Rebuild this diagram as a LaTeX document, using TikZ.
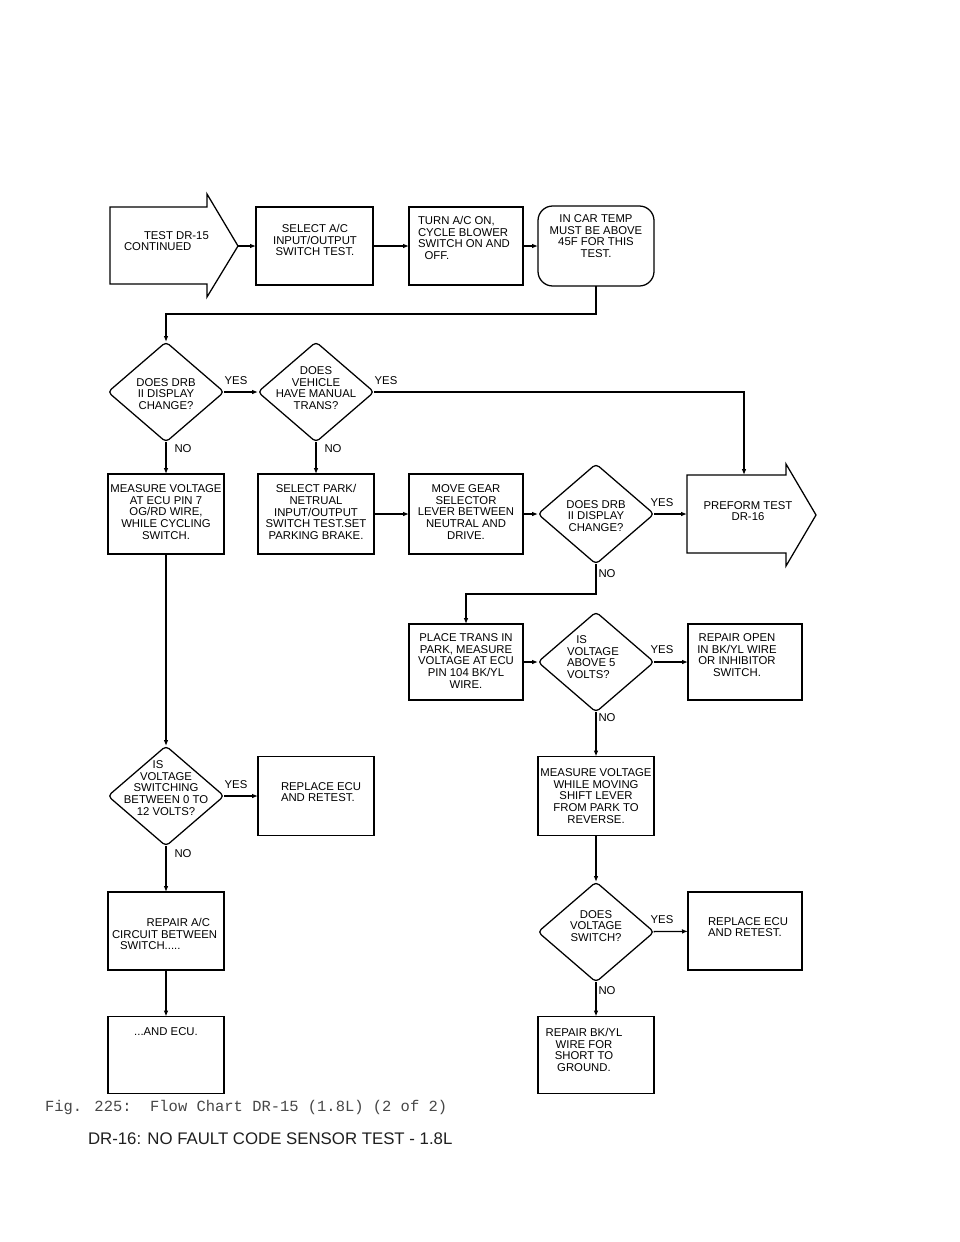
\documentclass[tikz,border=0pt]{standalone}
\usepackage{fontspec}
\setmainfont{Liberation Sans}
\newfontfamily\capfont{Liberation Mono}
\usetikzlibrary{shapes.geometric,arrows.meta,calc}
\begin{document}
\begin{tikzpicture}[x=0.75pt,y=-0.75pt,
  every node/.style={inner sep=0pt, outer sep=0pt},
  bx/.style 2 args={draw, line width=0.95pt, minimum width=#1*0.75pt, minimum height=#2*0.75pt},
  dia/.style={draw, diamond, line width=0.95pt, minimum width=116*0.75pt, minimum height=100*0.75pt, rounded corners=3pt},
  txt/.style={font=\fontsize{8.5}{8.7}\selectfont, align=center},
  lbl/.style={font=\fontsize{8.5}{8.7}\selectfont},
  conn/.style={line width=0.95pt, -{Latex[length=4.5pt,width=3.5pt]}},
  ln/.style={line width=0.95pt, line join=miter}
]
\fill[white] (0,0) rectangle (960,1242);
\useasboundingbox (0,0) rectangle (960,1242);

% ---------- row 1 ----------
\draw[ln] (110,207) -- (207,207) -- (207,194) -- (238,246) -- (207,297) -- (207,284) -- (110,284) -- cycle;
\node[minimum width=97*0.75pt, minimum height=77*0.75pt] (a1) at (158.5,245.5) {};
\coordinate (a1tip) at (238,246);
\node[txt, align=left, anchor=west] (t1) at (124,241) {\hspace*{15pt}TEST DR-15\\CONTINUED};

\node[bx={117}{78}] (b2) at (314.5,246) {};
\node[txt] (t2) at (315,240) {SELECT A/C\\INPUT/OUTPUT\\SWITCH TEST.};

\node[bx={114}{78}] (b3) at (466,246) {};
\node[txt, align=left, anchor=west] (t3) at (418,238) {TURN A/C ON,\\CYCLE BLOWER\\SWITCH ON AND\\\hspace*{5pt}OFF.};

\node[bx={116}{80}, rounded corners=11pt] (b4) at (596,246) {};
\node[txt] (t4) at (596,236) {IN CAR TEMP\\MUST BE ABOVE\\45F FOR THIS\\TEST.};

% ---------- row 2 ----------
\node[dia] (d1) at (166,392) {};
\node[txt] (td1) at (166,394) {DOES DRB\\II DISPLAY\\CHANGE?};
\node[dia] (d2) at (316,392) {};
\node[txt] (td2) at (316,388) {DOES\\VEHICLE\\HAVE MANUAL\\TRANS?};

% ---------- row 3 ----------
\node[bx={116}{80}] (b5) at (166,514) {};
\node[txt] (t5) at (166,512) {MEASURE VOLTAGE\\AT ECU PIN 7\\OG/RD WIRE,\\WHILE CYCLING\\SWITCH.};
\node[bx={116}{80}] (b6) at (316,514) {};
\node[txt] (t6) at (316,512) {SELECT PARK/\\NETRUAL\\INPUT/OUTPUT\\SWITCH TEST.SET\\PARKING BRAKE.};
\node[bx={114}{80}] (b7) at (466,514) {};
\node[txt] (t7) at (466,512) {MOVE GEAR\\SELECTOR\\LEVER BETWEEN\\NEUTRAL AND\\DRIVE.};
\node[dia] (d3) at (596,514) {};
\node[txt] (td3) at (596,516) {DOES DRB\\II DISPLAY\\CHANGE?};

\draw[ln] (687,475) -- (786,475) -- (786,464) -- (816,515) -- (786,566) -- (786,553) -- (687,553) -- cycle;
\node[minimum width=99*0.75pt, minimum height=78*0.75pt] (pre) at (736.5,514) {};
\coordinate (preIn) at (744,475);
\node[txt] (tpre) at (748,511) {PREFORM TEST\\DR-16};

% ---------- row 4 ----------
\node[bx={114}{76}] (b8) at (466,662) {};
\node[txt] (t8) at (466,661) {PLACE TRANS IN\\PARK, MEASURE\\VOLTAGE AT ECU\\PIN 104 BK/YL\\WIRE.};
\node[dia] (d5) at (596,662) {};
\node[txt, align=left, anchor=west] (td5) at (567,657) {\hspace*{7pt}IS\\VOLTAGE\\ABOVE 5\\VOLTS?};
\node[bx={114}{76}] (b9) at (745,662) {};
\node[txt] (t9) at (737,655) {REPAIR OPEN\\IN BK/YL WIRE\\OR INHIBITOR\\SWITCH.};

% ---------- row 5 ----------
\node[dia] (d4) at (166,796) {};
\node[txt] (td4) at (166,788) {IS\hspace*{12pt}\\VOLTAGE\\SWITCHING\\BETWEEN 0 TO\\12 VOLTS?};
\node[bx={116}{79}] (b11) at (316,796) {};
\node[txt, align=left, anchor=west] (t11) at (281,792) {REPLACE ECU\\AND RETEST.};
\node[bx={116}{79}] (b10) at (596,796) {};
\node[txt] (t10) at (596,796) {MEASURE VOLTAGE\\WHILE MOVING\\SHIFT LEVER\\FROM PARK TO\\REVERSE.};

% ---------- row 6 ----------
\node[bx={116}{78}] (b12) at (166,931) {};
\node[txt, align=left, anchor=west] (t12) at (112,934) {\hspace*{26pt}REPAIR A/C\\CIRCUIT BETWEEN\\\hspace*{6pt}SWITCH.....};
\node[dia] (d6) at (596,932) {};
\node[txt] (td6) at (596,926) {DOES\\VOLTAGE\\SWITCH?};
\node[bx={114}{78}] (b13) at (745,931) {};
\node[txt, align=left, anchor=west] (t13) at (708,927) {REPLACE ECU\\AND RETEST.};

% ---------- row 7 ----------
\node[bx={116}{77}] (b14) at (166,1055) {};
\node[txt] (t14) at (166,1032) {...AND ECU.};
\node[bx={116}{77}] (b15) at (596,1055) {};
\node[txt] (t15) at (584,1050) {REPAIR BK/YL\\WIRE FOR\\SHORT TO\\GROUND.};

% ---------- labels ----------
\node[lbl] (y1) at (236,381) {YES};
\node[lbl] (y2) at (386,381) {YES};
\node[lbl] (y3) at (662,503) {YES};
\node[lbl] (y5) at (662,650) {YES};
\node[lbl] (y4) at (236,785) {YES};
\node[lbl] (y6) at (662,920) {YES};
\node[lbl] (n1) at (183,449) {NO};
\node[lbl] (n2) at (333,449) {NO};
\node[lbl] (n3) at (607,574) {NO};
\node[lbl] (n5) at (607,718) {NO};
\node[lbl] (n4) at (183,854) {NO};
\node[lbl] (n6) at (607,991) {NO};

% ---------- connectors ----------
\draw[conn] (a1tip) -- (b2.west);
\draw[conn] (b2) -- (b3);
\draw[conn] (b3) -- (b4);
\draw[conn] (b4.south) -- ++(0,28) -| (d1.north);
\draw[conn] (d1) -- (d2);
\draw[conn] (d2.east) -| (preIn);
\draw[conn] (d1) -- (b5);
\draw[conn] (d2) -- (b6);
\draw[conn] (b6) -- (b7);
\draw[conn] (b7) -- (d3);
\draw[conn] (d3) -- (pre);
\draw[conn] (d3.south) -- ++(0,30) -| (b8.north);
\draw[conn] (b8) -- (d5);
\draw[conn] (d5) -- (b9);
\draw[conn] (d5) -- (b10);
\draw[conn] (b5) -- (d4);
\draw[conn] (d4) -- (b11);
\draw[conn] (d4) -- (b12);
\draw[conn] (b12) -- (b14);
\draw[conn] (b10) -- (d6);
\draw[conn] (d6) -- (b13);
\draw[conn] (d6) -- (b15);

% ---------- captions ----------
\node[font=\capfont\fontsize{11.6}{13}\selectfont, text=black!72, anchor=base west] (cap) at (45,1111) {Fig. 225:\ \ Flow Chart DR-15 (1.8L) (2 of 2)};
\node[font=\fontsize{12.6}{14}\selectfont, text=black!88, anchor=west] (title) at (88,1139) {DR-16: NO FAULT CODE SENSOR TEST - 1.8L};
\end{tikzpicture}
\end{document}
